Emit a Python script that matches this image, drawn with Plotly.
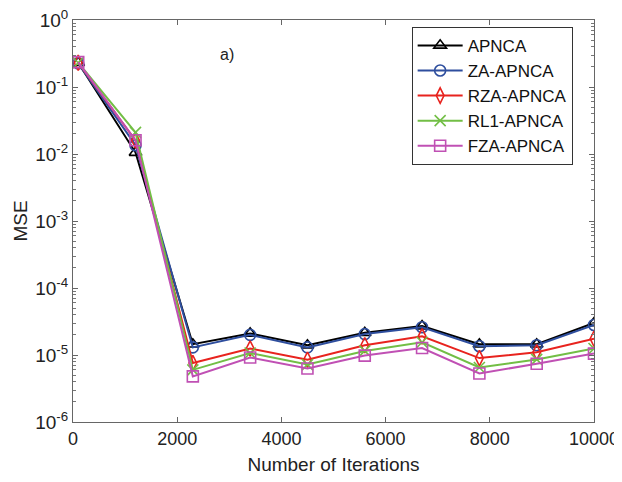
import plotly.graph_objects as go

iterations = [100, 1200, 2300, 3400, 4500, 5600, 6700, 7800, 8900, 10000]
apnca = [0.23, 0.0105, 1.45e-5, 2.1e-5, 1.4e-5, 2.15e-5, 2.7e-5, 1.45e-5, 1.45e-5, 3.0e-5]
za_apnca = [0.225, 0.0135, 1.3e-5, 2.0e-5, 1.3e-5, 2.05e-5, 2.6e-5, 1.35e-5, 1.4e-5, 2.8e-5]
rza_apnca = [0.23, 0.016, 7.6e-6, 1.25e-5, 8.5e-6, 1.4e-5, 1.9e-5, 9.0e-6, 1.1e-5, 1.75e-5]
rl1_apnca = [0.23, 0.021, 6.0e-6, 1.07e-5, 7.2e-6, 1.15e-5, 1.55e-5, 6.5e-6, 8.6e-6, 1.25e-5]
fza_apnca = [0.235, 0.016, 4.8e-6, 9.2e-6, 6.3e-6, 9.8e-6, 1.27e-5, 5.3e-6, 7.4e-6, 1.05e-5]
x_ticks = [0, 2000, 4000, 6000, 8000, 10000]
x_tick_text = ["0", "2000", "4000", "6000", "8000", "10000"]
y_ticks = [1e-6, 1e-5, 1e-4, 1e-3, 1e-2, 1e-1, 1]
y_tick_text = ["10<sup>-6</sup>", "10<sup>-5</sup>", "10<sup>-4</sup>", "10<sup>-3</sup>",
               "10<sup>-2</sup>", "10<sup>-1</sup>", "10<sup>0</sup>"]
decades = [-6, -5, -4, -3, -2, -1]
minor_mults = [2, 3, 4, 5, 6, 7, 8, 9]
y_minor = [m * 10.0 ** d for d in decades for m in minor_mults]

series = [
    ("APNCA", apnca, "#000000", "triangle-up-open"),
    ("ZA-APNCA", za_apnca, "#2E4E9E", "circle-open"),
    ("RZA-APNCA", rza_apnca, "#E8231E", "diamond-tall-open"),
    ("RL1-APNCA", rl1_apnca, "#72BE45", "x-thin-open"),
    ("FZA-APNCA", fza_apnca, "#C050B4", "square-open"),
]

fig = go.Figure()
for name, vals, color, sym in series:
    fig.add_trace(go.Scatter(
        x=iterations, y=vals, name=name, mode="lines+markers",
        line=dict(color=color, width=2),
        marker=dict(symbol=sym, size=11, color=color, line=dict(color=color, width=1.6)),
    ))

font = "Liberation Sans, Arial, sans-serif"
# page body has an 8px default margin, so the figure is shrunk by that offset
fig.update_layout(
    template="none",
    width=614, height=474,
    margin=dict(l=65, r=28, t=12, b=60, autoexpand=False),
    paper_bgcolor="white", plot_bgcolor="white",
    font=dict(family=font, size=18, color="#222"),
    showlegend=True,
    legend=dict(x=0.65, y=0.983, xanchor="left", yanchor="top",
                bordercolor="#333", borderwidth=1, bgcolor="white",
                font=dict(size=17, color="#111"), tracegroupgap=0,
                itemwidth=45),
    annotations=[dict(x=2950, y=-0.52, xref="x", yref="y", text="a)",
                      showarrow=False, font=dict(size=16, color="#222"))],
)
fig.layout.xaxis.update(
    range=[0, 10000], tickmode="array", tickvals=x_ticks, ticktext=x_tick_text,
    automargin=False, ticklabeloverflow="allow",
    title=dict(text="Number of Iterations", standoff=10, font=dict(size=19)),
    tickfont=dict(size=18),
    showline=True, linecolor="#666", linewidth=1, mirror="ticks",
    ticks="inside", ticklen=5, tickcolor="#666", showgrid=False, zeroline=False,
)
fig.layout.yaxis.update(
    type="log", range=[-6, 0], tickmode="array", tickvals=y_ticks, ticktext=y_tick_text,
    automargin=False, ticklabeloverflow="allow",
    tickfont=dict(size=19),
    title=dict(text="MSE", standoff=2, font=dict(size=19)),
    showline=True, linecolor="#666", linewidth=1, mirror="ticks",
    ticks="inside", ticklen=5, tickcolor="#666", showgrid=False, zeroline=False,
    minor=dict(tickmode="array", tickvals=y_minor, ticks="inside", ticklen=3,
               tickcolor="#777", tickwidth=1, showgrid=False),
)
fig.write_html("out.html")
